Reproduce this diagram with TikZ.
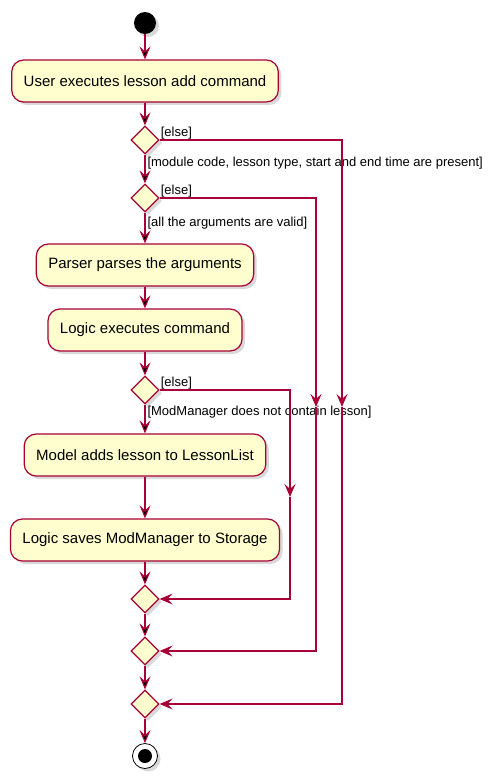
\documentclass[tikz,border=0pt]{standalone}
\usepackage{fontspec}
\setmainfont{Liberation Sans}
\usetikzlibrary{arrows.meta,shapes.geometric,shadows}

\definecolor{umlred}{HTML}{A80036}
\definecolor{umlfill}{HTML}{FEFECE}

\tikzset{
  umlshadow/.style={drop shadow={shadow xshift=3pt,shadow yshift=-3pt,opacity=0.3}},
  action/.style={rectangle, rounded corners=12pt, draw=umlred, fill=umlfill,
    line width=1.2pt, minimum height=42pt, inner xsep=12pt,
    font=\fontsize{15}{17}\selectfont, umlshadow},
  choice/.style={diamond, draw=umlred, fill=umlfill, line width=1.2pt,
    minimum width=28pt, minimum height=28pt, inner sep=0pt, umlshadow},
  startdot/.style={circle, fill=black, minimum size=22pt, inner sep=0pt, umlshadow},
  enddot/.style={circle, draw=black, fill=white, line width=0.8pt,
    minimum size=25pt, inner sep=0pt, umlshadow,
    path picture={\fill[black] (path picture bounding box.center) circle (7pt);}},
  guard/.style={font=\fontsize{13}{15}\selectfont, text=black, inner sep=2pt},
  flow/.style={draw=umlred, line width=1.1pt,
    -{Stealth[length=13pt,width=11pt,inset=5pt]}},
}

\begin{document}
\begin{tikzpicture}[x=1pt,y=-1pt]
\useasboundingbox (0,0) rectangle (499,781);

    \node (start) at (145,23) [startdot] {};
    \node (user) at (145,81) [action] {User executes lesson add command};
    \node (chk1) at (145,140) [choice] {};
    \node (chk2) at (145,198) [choice] {};
    \node (parse) at (145,265) [action] {Parser parses the arguments};
    \node (exec) at (145,330) [action] {Logic executes command};
    \node (chk3) at (145,390) [choice] {};
    \node (model) at (145,455) [action] {Model adds lesson to LessonList};
    \node (save) at (145,540) [action] {Logic saves ModManager to Storage};
    \node (join3) at (145,599) [choice] {};
    \node (join2) at (145,651) [choice] {};
    \node (join1) at (145,704) [choice] {};
    \node (stop) at (145,756) [enddot] {};

    \node (else1) at (chk1.east) [guard, anchor=south west, inner sep=1pt] {[else]};
    \node (else2) at (chk2.east) [guard, anchor=south west, inner sep=1pt] {[else]};
    \node (else3) at (chk3.east) [guard, anchor=south west, inner sep=1pt] {[else]};

    \coordinate (out1) at (342,407);
    \coordinate (out2) at (316,407);
    \coordinate (out3) at (290,497);

    \path[flow]
        (start) edge (user)
        (user) edge (chk1)
        (chk1) edge node[guard, pos=0.3, right] {[module code, lesson type, start and end time are present]} (chk2)
        (chk2) edge node[guard, pos=0.35, right] {[all the arguments are valid]} (parse)
        (parse) edge (exec)
        (exec) edge (chk3)
        (chk3) edge node[guard, pos=0.27, right] {[ModManager does not contain lesson]} (model)
        (model) edge (save)
        (save) edge (join3)
        (join3) edge (join2)
        (join2) edge (join1)
        (join1) edge (stop);

    % else branches
    \draw[flow] (chk1.east) -| (out1);
    \draw[flow] (out1) |- (join1);
    \draw[flow] (chk2.east) -| (out2);
    \draw[flow] (out2) |- (join2);
    \draw[flow] (chk3.east) -| (out3);
    \draw[flow] (out3) |- (join3);

\end{tikzpicture}
\end{document}
